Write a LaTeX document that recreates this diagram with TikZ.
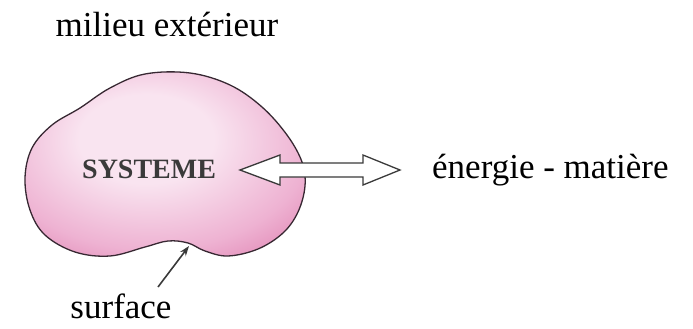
\documentclass[tikz,border=0pt]{standalone}
\usepackage{fontspec}
\setmainfont{Liberation Serif}
\usetikzlibrary{arrows.meta,calc}

\definecolor{blobcore}{RGB}{249,228,240}
\definecolor{blobmid}{RGB}{238,178,210}
\definecolor{blobedge}{RGB}{216,104,160}
\definecolor{blobline}{RGB}{55,40,50}
\definecolor{inkgray}{RGB}{58,58,58}

% pink radial fill, brighter towards the upper middle
\pgfdeclareradialshading{blobshade}{\pgfpoint{-4bp}{8bp}}{%
  color(0bp)=(blobcore); color(12bp)=(blobcore); color(28bp)=(blobmid);
  color(44bp)=(blobedge); color(75bp)=(blobedge)}

\tikzset{
  label/.style={font=\fontsize{35}{40}\selectfont, inner sep=0pt, text=black},
  systext/.style={font=\fontsize{28}{32}\selectfont\bfseries, inner sep=0pt, text=inkgray},
  blob/.style={draw=blobline, line width=1.3pt, shading=blobshade},
  hollow/.style={draw=inkgray, line width=1.3pt, fill=white, line join=miter},
  pointer/.style={draw=inkgray, line width=1.6pt, -{Stealth[length=10pt,width=7pt]}},
}

\begin{document}
\begin{tikzpicture}[x=1pt, y=-1pt]
  \useasboundingbox (0,0) rectangle (693,329);

  % the system boundary
  \path[blob] plot[smooth cycle, tension=0.6] coordinates {
    (25,178) (32,148) (52,125) (80,108) (110,88) (145,74) (190,73)
    (230,85) (262,107) (287,135) (302,162) (305,186) (298,212)
    (283,233) (258,249) (228,256) (205,251) (188,243) (168,241)
    (145,247) (110,256) (75,252) (45,235) (30,210)};

  % texts
  \node[label, anchor=base] (ext) at (167,37) {milieu extérieur};
  \node[systext, anchor=base west] (sys) at (82,178) {SYSTEME};
  \node[label, anchor=base west] (energy) at (432,178) {énergie - matière};
  \node[label, anchor=base] (surf) at (121,318) {surface};

  % exchange with the surroundings: hollow double arrow
  \coordinate (tipL) at (240,170);
  \coordinate (tipR) at (400,170);
  \path[hollow] (tipL) -- ($(tipL)+(40,-15)$) -- ($(tipL)+(40,-7)$)
    -- ($(tipR)+(-37,-7)$) -- ($(tipR)+(-37,-15)$) -- (tipR)
    -- ($(tipR)+(-37,15)$) -- ($(tipR)+(-37,7)$)
    -- ($(tipL)+(40,7)$) -- ($(tipL)+(40,15)$) -- cycle;

  % pointer to the boundary surface
  \coordinate (tail) at (158,287);
  \coordinate (onsurf) at (189,246);
  \draw[pointer] (tail) -- (onsurf);
\end{tikzpicture}
\end{document}
